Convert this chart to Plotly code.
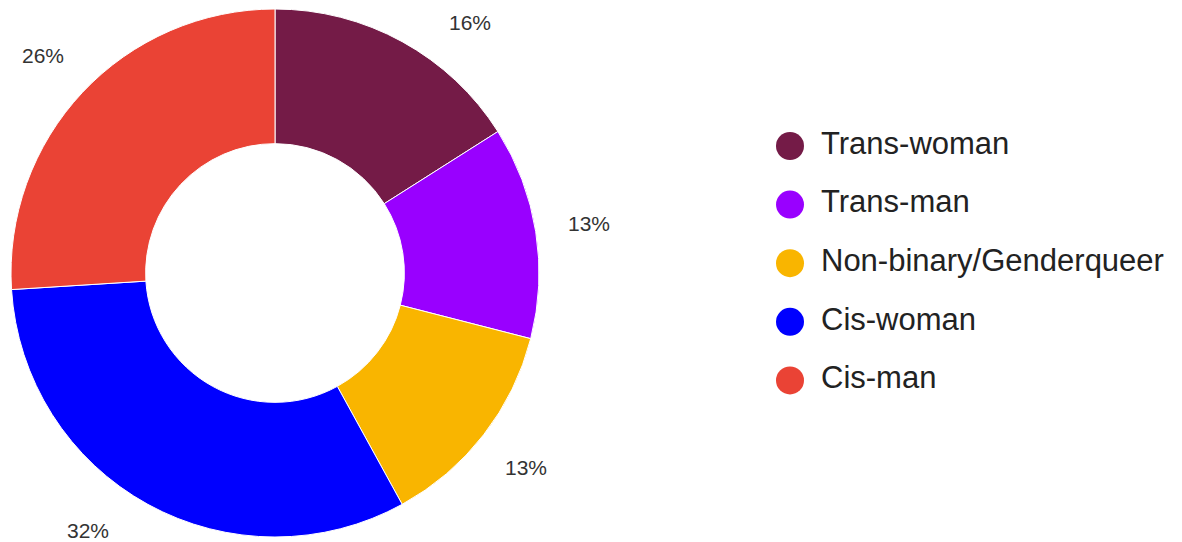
import math
import plotly.graph_objects as go

# Gender identity breakdown
categories = ["Trans-woman", "Trans-man", "Non-binary/Genderqueer", "Cis-woman", "Cis-man"]
shares = [16, 13, 13, 32, 26]
colors = ["#741B47", "#9900FF", "#F9B500", "#0000FF", "#EA4335"]

W, H = 1182, 542
cx, cy, R = 275, 273, 264          # donut centre and radius, px
label_r = 318                      # radius of the percentage labels, px
y_min, y_max = 22, 530             # keep label centres inside the canvas

fig = go.Figure()

fig.add_trace(go.Pie(
    labels=categories,
    values=shares,
    marker=dict(colors=colors, line=dict(color="white", width=1)),
    hole=0.49,
    sort=False,
    direction="clockwise",
    rotation=0,
    textinfo="none",
    hoverinfo="skip",
    showlegend=False,
    domain=dict(x=[(cx - R) / W, (cx + R) / W],
                y=[(H - cy - R) / H, (H - cy + R) / H]),
))

# Percentage labels outside each slice, at the slice's mid-angle;
# labels that would leave the canvas slide along the label circle
total = sum(shares)
acc = 0
for v in shares:
    mid = (acc + v / 2) / total * 2 * math.pi
    acc += v
    py = cy - label_r * math.cos(mid)
    side = 1 if math.sin(mid) >= 0 else -1
    if py < y_min or py > y_max:
        py = min(max(py, y_min), y_max)
        c = (cy - py) / label_r
        px = cx + side * label_r * math.sqrt(max(0.0, 1 - c * c))
    else:
        px = cx + label_r * math.sin(mid)
    fig.add_annotation(
        x=px / W, y=1 - py / H, xref="paper", yref="paper",
        text=f"{round(v / total * 100)}%", showarrow=False,
        xanchor="center", yanchor="middle",
        font=dict(family="Liberation Sans, Arial", size=21, color="#333333"),
    )

# Legend drawn as circle markers with labels
idx = list(range(len(categories)))
fig.add_trace(go.Scatter(
    x=[0] * len(categories), y=idx, mode="markers",
    marker=dict(size=28, color=colors, line=dict(width=0)),
    xaxis="x2", yaxis="y2", hoverinfo="skip", showlegend=False,
))
fig.add_trace(go.Scatter(
    x=[31] * len(categories), y=idx, mode="text",
    text=categories, textposition="middle right",
    textfont=dict(family="Liberation Sans, Arial", size=31, color="#222222"),
    xaxis="x2", yaxis="y2", hoverinfo="skip", showlegend=False,
))

row_px, first_px = 58.6, 146
fig.update_layout(
    width=W, height=H,
    margin=dict(l=0, r=0, t=0, b=0),
    paper_bgcolor="white", plot_bgcolor="white",
    xaxis2=dict(domain=[0.6, 1.0], range=[-(790 - 0.6 * W), W - 790],
                visible=False, fixedrange=True),
    yaxis2=dict(domain=[0, 1], range=[(H - first_px) / row_px, -first_px / row_px],
                visible=False, fixedrange=True),
)

fig.write_html("out.html")
